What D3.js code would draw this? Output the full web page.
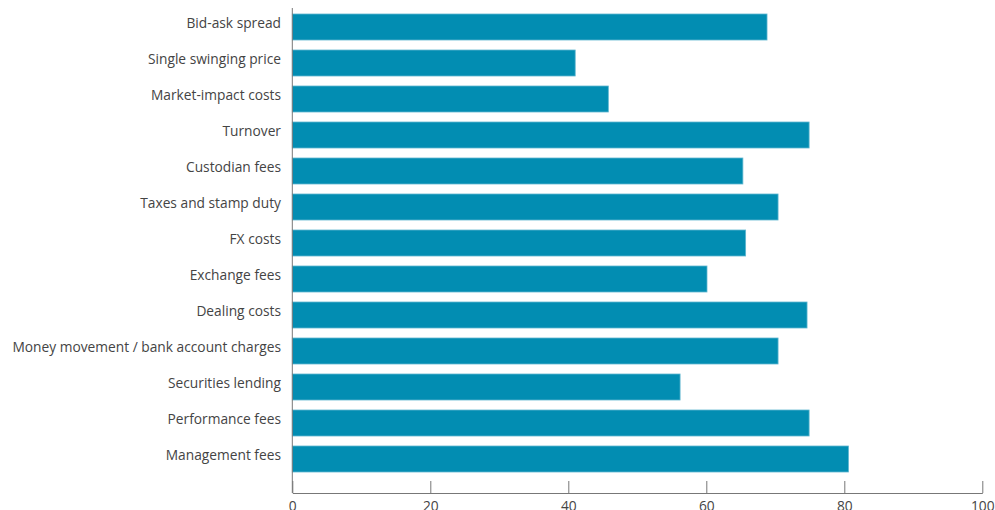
<!DOCTYPE html>
<html>
<head>
<meta charset="utf-8">
<script src="https://cdn.jsdelivr.net/npm/d3@7"></script>
<style>
  body { margin: 0; background: #fff; }
  svg { display: block; }
</style>
</head>
<body>
<svg width="995" height="510"></svg>
<script>
const width = 995;
const height = 510;

const svg = d3.select('svg');

// categories top to bottom and their values
const categories = [
  "Bid-ask spread",
  "Single swinging price",
  "Market-impact costs",
  "Turnover",
  "Custodian fees",
  "Taxes and stamp duty",
  "FX costs",
  "Exchange fees",
  "Dealing costs",
  "Money movement / bank account charges",
  "Securities lending",
  "Performance fees",
  "Management fees"
];
const values = [68.8, 41.0, 45.8, 74.9, 65.3, 70.4, 65.7, 60.1, 74.6, 70.4, 56.2, 74.9, 80.6];
const xTicks = [0, 20, 40, 60, 80, 100];

const data = categories.map((c, i) => ({ name: c, value: values[i] }));

const x = d3.scaleLinear().domain([0, 100]).range([292.3, 982.3]);
const y = d3.scaleBand()
  .domain(categories)
  .range([9, 477])
  .paddingInner(0.278)
  .paddingOuter(0.139);

const axisY = 493;

// bars
svg.selectAll("rect.bar")
  .data(data)
  .enter().append("rect")
  .attr("class", "bar")
  .attr("x", x(0))
  .attr("y", d => y(d.name))
  .attr("width", d => x(d.value) - x(0))
  .attr("height", y.bandwidth())
  .style("fill", "#028db2")
  .style("stroke", "#5fb6cf")
  .style("stroke-width", 0.8);

// category labels
svg.selectAll("text.cat")
  .data(data)
  .enter().append("text")
  .attr("class", "cat")
  .attr("x", 281)
  .attr("y", d => y(d.name) + y.bandwidth() / 2 - 4)
  .attr("dy", "0.35em")
  .attr("text-anchor", "end")
  .text(d => d.name)
  .style("font-family", "'Open Sans', sans-serif")
  .style("font-size", "13.75px")
  .style("fill", "#444");

// left line
svg.append("line")
  .attr("x1", x(0)).attr("x2", x(0))
  .attr("y1", 8).attr("y2", axisY)
  .style("stroke", "#777")
  .style("stroke-width", 1);

// x axis with ticks pointing up
const xAxis = d3.axisBottom(x).tickValues(xTicks).tickSizeInner(-12).tickSizeOuter(0).tickPadding(8);
const gx = svg.append("g").attr("transform", `translate(0,${axisY})`).call(xAxis);
gx.select(".domain").style("stroke", "#777");
gx.selectAll(".tick line").style("stroke", "#777");
gx.selectAll(".tick text")
  .style("font-family", "'Open Sans', sans-serif")
  .style("font-size", "13.75px")
  .style("fill", "#444");
</script>
</body>
</html>
